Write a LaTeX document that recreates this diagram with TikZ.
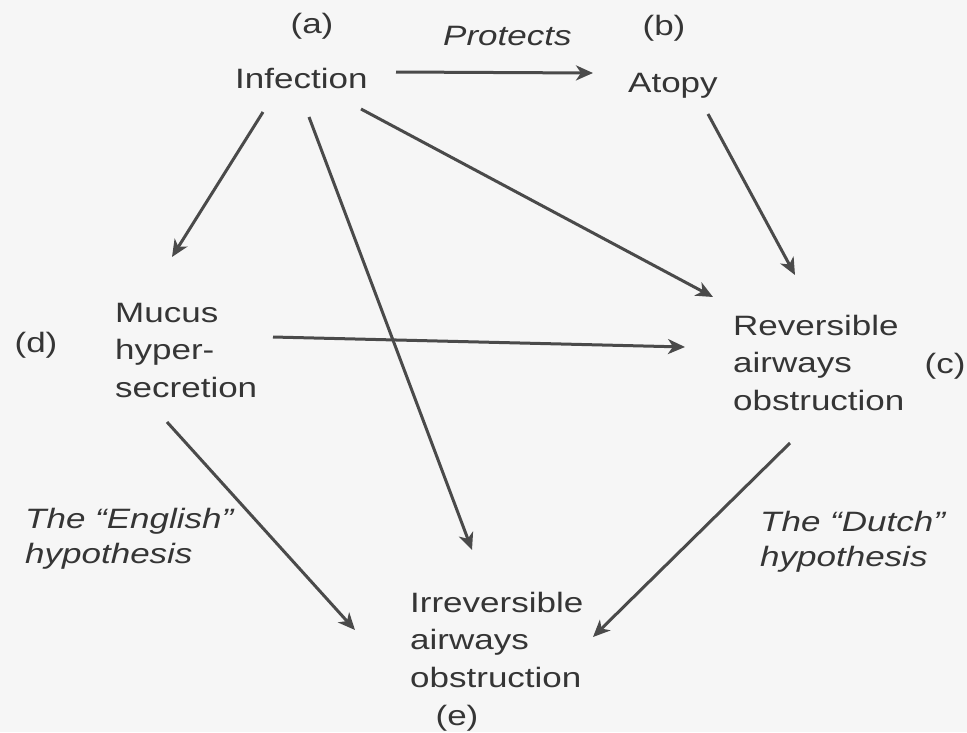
\documentclass[tikz,border=0pt]{standalone}
\usepackage{fontspec}
\setmainfont{Liberation Sans}[FakeStretch=1.25]
\usetikzlibrary{arrows.meta,calc}
\definecolor{ink}{HTML}{353535}
\definecolor{lineink}{HTML}{4A4A4A}
\definecolor{paper}{HTML}{F6F6F6}
\tikzset{
  lbl/.style={inner sep=0pt, text=ink, font=\fontsize{28}{37.5}\selectfont, align=left},
  ilbl/.style={lbl, font=\fontsize{28}{35}\selectfont\itshape},
  arr/.style={draw=lineink, line width=3pt, -{Stealth[length=17pt,width=15pt,inset=5pt]}}
}
\begin{document}
\begin{tikzpicture}[x=1pt,y=-1pt]
\fill[paper] (0,0) rectangle (967,732);
\useasboundingbox (0,0) rectangle (967,732);

% main nodes (base = baseline of last line)
\node[lbl, anchor=base west] (inf) at (235,88) {Infection};
\node[lbl, anchor=base west] (ato) at (628,92) {Atopy};
\node[lbl, anchor=base west] (muc) at (115,397) {Mucus\\hyper-\\secretion};
\node[lbl, anchor=base west] (rev) at (733,410) {Reversible\\airways\\obstruction};
\node[lbl, anchor=base west] (irr) at (410,687) {Irreversible\\airways\\obstruction};

% letter labels
\node[lbl, anchor=base] (la) at (312,33) {(a)};
\node[lbl, anchor=base] (lb) at (664,35) {(b)};
\node[lbl, anchor=base] (lc) at (945,373) {(c)};
\node[lbl, anchor=base] (ld) at (36,352) {(d)};
\node[lbl, anchor=base] (le) at (457,725) {(e)};

% italic labels
\node[ilbl, anchor=base west] (prot) at (443,45) {Protects};
\node[ilbl, anchor=base west] (eng) at (25,563) {The “English”\\hypothesis};
\node[ilbl, anchor=base west] (dut) at (760,566) {The “Dutch”\\hypothesis};

% connectors
\draw[arr] ($(inf.base west)+(161,-16)$) -- ($(ato.base west)+(-35,-19)$);
\draw[arr] ($(inf.base west)+(28,24)$) -- ($(muc.base west)+(57,-140)$);
\draw[arr] ($(inf.base west)+(74,29)$) -- ($(irr.base west)+(62,-137)$);
\draw[arr] ($(inf.base west)+(126,21)$) -- ($(rev.base west)+(-20,-113)$);
\draw[arr] ($(ato.base west)+(80,22)$) -- ($(rev.base west)+(62,-135)$);
\draw[arr] ($(muc.base west)+(158,-60)$) -- ($(rev.base west)+(-48,-63)$);
\draw[arr] ($(muc.base west)+(52,25)$) -- ($(irr.base west)+(-55,-57)$);
\draw[arr] ($(rev.base west)+(57,33)$) -- ($(irr.base west)+(183,-50)$);
\end{tikzpicture}
\end{document}
